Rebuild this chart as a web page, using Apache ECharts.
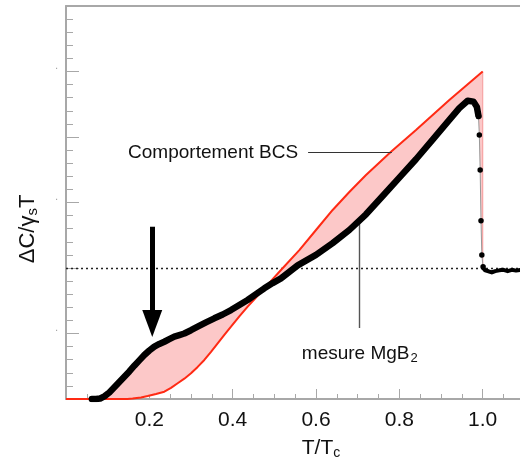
<!DOCTYPE html>
<html>
<head>
<meta charset="utf-8">
<script src="https://cdn.jsdelivr.net/npm/echarts@6/dist/echarts.min.js"></script>
<style>html,body{margin:0;padding:0;background:#fff}#c{width:520px;height:466px}</style>
</head>
<body>
<div id="c"></div>
<script>
// ---- data ----
const xTickLabels = ['0.2', '0.4', '0.6', '0.8', '1.0'];
const yDotTicks = [0.5, 1.5, 2.5];
const normalLevel = 1.0;

// BCS prediction (red curve), [T/Tc, ΔC/γsT]
const bcsCurve = [
  [0, 0], [0.147, 0], [0.16, 0.003], [0.18, 0.012], [0.196, 0.023], [0.216, 0.038],
  [0.236, 0.056], [0.252, 0.085], [0.268, 0.12], [0.284, 0.155], [0.3, 0.196],
  [0.316, 0.245], [0.332, 0.298], [0.348, 0.36], [0.364, 0.425], [0.38, 0.49],
  [0.396, 0.552], [0.416, 0.63], [0.436, 0.705], [0.456, 0.775], [0.476, 0.845],
  [0.496, 0.915], [0.516, 0.985], [0.56, 1.137], [0.6, 1.29], [0.64, 1.443],
  [0.68, 1.58], [0.72, 1.71], [0.78, 1.888], [0.84, 2.053], [0.92, 2.282], [1.0, 2.5]
];
// BCS jump at Tc
const bcsJump = [[1.0, 2.5], [1.0, 1.0]];

// MgB2 measurement (black), below Tc
const measured = [
  [0.062, 0], [0.072, 0], [0.082, 0.004], [0.092, 0.02], [0.104, 0.05], [0.116, 0.09],
  [0.128, 0.13], [0.14, 0.17], [0.152, 0.21], [0.164, 0.254], [0.176, 0.295],
  [0.188, 0.336], [0.2, 0.37], [0.212, 0.4], [0.224, 0.42], [0.236, 0.437],
  [0.248, 0.457], [0.26, 0.476], [0.272, 0.488], [0.284, 0.5], [0.3, 0.525],
  [0.316, 0.552], [0.336, 0.585], [0.356, 0.616], [0.376, 0.645], [0.396, 0.679],
  [0.416, 0.718], [0.436, 0.756], [0.456, 0.8], [0.476, 0.845], [0.496, 0.885],
  [0.516, 0.921], [0.536, 0.97], [0.556, 1.02], [0.6, 1.1], [0.64, 1.19],
  [0.68, 1.29], [0.72, 1.41], [0.76, 1.55], [0.8, 1.69], [0.84, 1.83], [0.88, 1.98],
  [0.92, 2.13], [0.944, 2.22], [0.964, 2.277], [0.978, 2.27], [0.986, 2.23], [0.99, 2.16]
];
// sparse points of the transition
const dropPoints = [
  [0.99, 2.16], [0.992, 2.015], [0.994, 1.748], [0.996, 1.361], [0.998, 1.099], [1.001, 1.01]
];
// normal state above Tc
const normalState = [
  [1.001, 1.0], [1.006, 0.982], [1.014, 0.975], [1.022, 0.966], [1.03, 0.976],
  [1.04, 0.982], [1.05, 0.986], [1.06, 0.976], [1.07, 0.986], [1.08, 0.98], [1.09, 0.985]
];

// annotation anchors (data coordinates)
const arrowFrom = [0.207, 1.315];
const arrowTo = [0.207, 0.576];
const bcsLabelAt = [0.557, 1.876];
const bcsLeader = [[0.581, 1.885], [0.782, 1.885]];
const mgLabelAt = [0.566, 0.344];
const mgLeader = [[0.704, 1.366], [0.704, 0.542]];

const FONT = '"Liberation Sans", Helvetica, Arial, sans-serif';
const AXIS_GREY = '#a8a8a8';

const chart = echarts.init(document.getElementById('c'), null, {renderer: 'canvas'});

const option = {
  animation: false,
  backgroundColor: '#fff',
  grid: {left: 66, top: 6, width: 500, height: 393, containLabel: false, outerBoundsMode: 'none'},
  xAxis: [{
    type: 'value', min: 0, max: 1.2, interval: 0.2,
    name: 'T/T{s|c}', nameLocation: 'middle', nameGap: 37,
    nameTextStyle: {
      fontFamily: FONT, fontSize: 21, color: '#111', padding: [0, 0, 0, 10],
      rich: {s: {fontFamily: FONT, fontSize: 14, color: '#111', padding: [10, 0, 0, 0]}}
    },
    axisLine: {show: true, lineStyle: {color: AXIS_GREY, width: 2}},
    axisTick: {show: true, inside: true, length: 10, lineStyle: {color: AXIS_GREY, width: 1}},
    minorTick: {show: true, splitNumber: 4, length: 5, lineStyle: {color: AXIS_GREY, width: 1}},
    splitLine: {show: false},
    axisLabel: {
      show: true, margin: 11, fontFamily: FONT, fontSize: 21, color: '#111',
      showMinLabel: false, showMaxLabel: false,
      formatter: function (v) {
        const s = v.toFixed(1);
        return xTickLabels.indexOf(s) >= 0 ? s : '';
      }
    }
  }, {
    type: 'value', min: 0, max: 1.2, position: 'top',
    axisLine: {show: true, lineStyle: {color: AXIS_GREY, width: 2}},
    axisTick: {show: false}, axisLabel: {show: false}, splitLine: {show: false}
  }],
  yAxis: {
    type: 'value', min: 0, max: 3, interval: 0.5,
    name: '{a|ΔC/γ}{s|s}{a|T}', nameLocation: 'middle', nameGap: 26, nameRotate: 90,
    nameTextStyle: {
      padding: [0, 53, 0, 0],
      rich: {
        a: {fontFamily: FONT, fontSize: 22, color: '#111'},
        s: {fontFamily: FONT, fontSize: 15, color: '#111', padding: [10, 0, 0, 0]}
      }
    },
    axisLine: {show: true, lineStyle: {color: AXIS_GREY, width: 2}},
    axisTick: {show: true, inside: true, length: 13, lineStyle: {color: AXIS_GREY, width: 1}},
    minorTick: {show: true, splitNumber: 5, length: 7, lineStyle: {color: AXIS_GREY, width: 1}},
    splitLine: {show: false},
    axisLabel: {
      show: true, margin: 8, fontFamily: FONT, fontSize: 10, color: '#999',
      verticalAlign: 'bottom',
      formatter: function (v) {
        return yDotTicks.some(t => Math.abs(t - v) < 1e-6) ? '.' : '';
      }
    }
  },
  series: [
    {
      name: 'difference', type: 'custom', z: 1, silent: true,
      data: [[0, 0]],
      renderItem: function (params, api) {
        const pts = [];
        measured.forEach(p => pts.push(api.coord(p)));
        dropPoints.forEach(p => pts.push(api.coord(p)));
        for (let i = bcsCurve.length - 1; i >= 0; i--) pts.push(api.coord(bcsCurve[i]));
        return {type: 'polygon', shape: {points: pts}, style: {fill: '#fcc8c8', stroke: null}};
      }
    },
    {
      name: 'BCS jump', type: 'line', z: 2, data: bcsJump, symbol: 'none',
      lineStyle: {color: '#f7a4a4', width: 1.2}
    },
    {
      name: 'BCS', type: 'line', z: 3, data: bcsCurve, symbol: 'none',
      lineStyle: {color: '#ff2a14', width: 2}
    },
    {
      name: 'MgB2 transition', type: 'line', z: 4, data: dropPoints,
      symbol: 'circle', symbolSize: 5.5, showAllSymbol: true,
      itemStyle: {color: '#000'},
      lineStyle: {color: '#999', width: 1}
    },
    {
      name: 'MgB2', type: 'line', z: 5, data: measured, symbol: 'none',
      lineStyle: {color: '#000', width: 6.5, cap: 'round', join: 'round'}
    },
    {
      name: 'normal', type: 'line', z: 5, data: normalState, symbol: 'none',
      lineStyle: {color: '#000', width: 4, cap: 'round', join: 'round'},
      markLine: {
        silent: true, symbol: 'none', z: 1,
        label: {show: false},
        lineStyle: {color: '#222', width: 1.3, type: [2, 3]},
        data: [{yAxis: normalLevel}]
      }
    },
    {
      name: 'annotations', type: 'line', z: 6, data: [], symbol: 'none',
      markLine: {
        silent: true, animation: false,
        label: {show: false},
        data: [
          [{coord: arrowFrom, symbol: 'none', lineStyle: {color: '#000', width: 5, type: 'solid'}},
           {coord: arrowTo, symbol: 'triangle', symbolSize: [20, 27]}],
          [{coord: bcsLeader[0], symbol: 'none', lineStyle: {color: '#333', width: 1.2, type: 'solid'}},
           {coord: bcsLeader[1], symbol: 'none'}],
          [{coord: mgLeader[0], symbol: 'none', lineStyle: {color: '#555', width: 1.4, type: 'solid'}},
           {coord: mgLeader[1], symbol: 'none'}]
        ]
      },
      markPoint: {
        silent: true, symbol: 'circle', symbolSize: 0,
        data: [
          {coord: bcsLabelAt, label: {show: true, position: 'left', distance: 0,
            formatter: 'Comportement BCS', fontFamily: FONT, fontSize: 19, color: '#111'}},
          {coord: mgLabelAt, label: {show: true, position: 'right', distance: 0,
            formatter: '{a|mesure MgB}{s|2}', color: '#111',
            rich: {
              a: {fontFamily: FONT, fontSize: 19, color: '#111'},
              s: {fontFamily: FONT, fontSize: 13, color: '#111', padding: [9, 0, 0, 1]}
            }}}
        ]
      }
    }
  ]
};
chart.setOption(option);
</script>
</body>
</html>
